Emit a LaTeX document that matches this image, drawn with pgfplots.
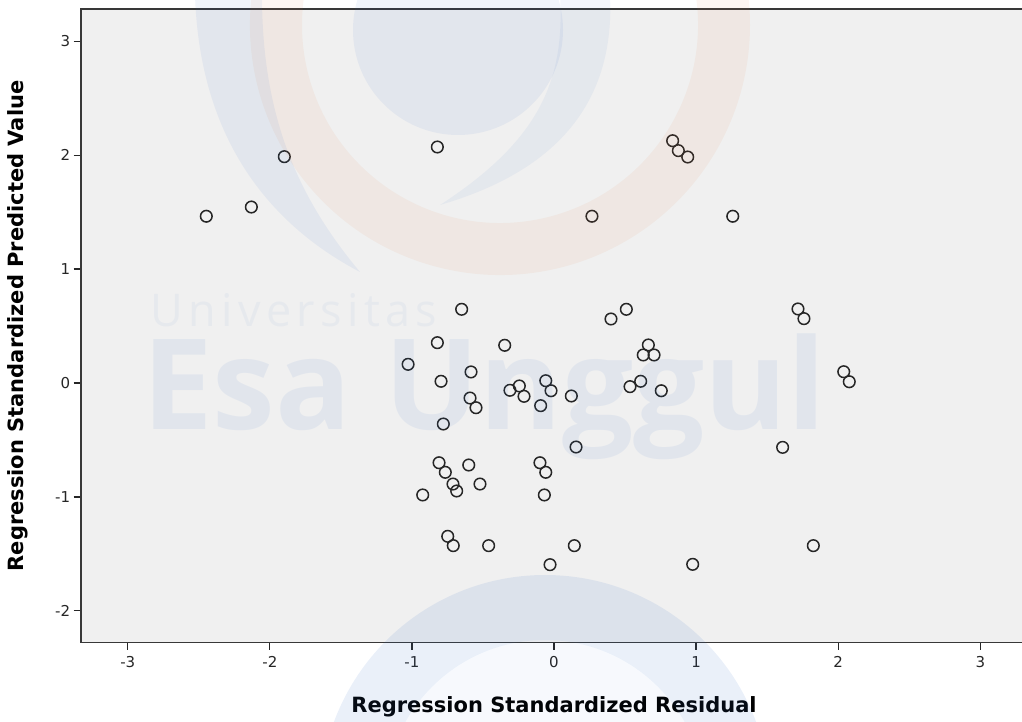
\documentclass[border=0pt]{standalone}
\usepackage{fontspec}
\setmainfont{DejaVu Sans}
\newfontfamily\wmfont[LetterSpace=12]{Open Sans}
\newfontfamily\wmbold{Open Sans}
\usepackage{pgfplots}
\usetikzlibrary{calc}
\pgfplotsset{compat=1.18}
\definecolor{bgc}{HTML}{F0F0F0}
\definecolor{wmblue}{RGB}{50,110,200}
\definecolor{wmorange}{RGB}{230,120,60}

\begin{document}
\begin{tikzpicture}[x=1pt,y=1pt]
\begin{axis}[
  at={(80.7pt,79.3pt)}, anchor=south west,
  width=946.6pt, height=633.4pt, scale only axis,
  xmin=-3.331, xmax=3.331, ymin=-2.28, ymax=3.281,
  axis background/.style={fill=bgc},
  axis line style={line width=1.6pt, draw=black!78},
  tick pos=left, tick align=outside,
  major tick length=7pt,
  tick style={line width=1.3pt, black!85},
  xtick={-3,-2,-1,0,1,2,3},
  xticklabels={-3,-2,-1,0,1,2,3},
  ytick={-2,-1,0,1,2,3},
  yticklabels={-2,-1,0,1,2,3},
  ticklabel style={font=\fontsize{15}{17}\selectfont, text=black!85},
  xticklabel style={yshift=-3pt},
  xlabel={Regression Standardized Residual},
  ylabel={Regression Standardized Predicted Value},
  label style={font=\fontsize{21}{24}\selectfont\bfseries},
  xlabel style={at={(axis description cs:0.5,-0.1105)}, anchor=base},
  ylabel style={at={(axis description cs:-0.0662,0.5)}, anchor=center},
]
\addplot[only marks, mark=o, mark size=5.8pt,
  mark options={line width=1.5pt, draw=black!85}] table {
x y
-2.447 1.464
-2.130 1.545
-1.898 1.987
-0.821 2.072
0.835 2.127
0.875 2.040
0.941 1.984
0.267 1.464
1.258 1.464
-0.650 0.647
0.401 0.562
0.509 0.647
1.717 0.650
1.759 0.565
-0.821 0.354
-0.347 0.331
-1.027 0.164
-0.584 0.097
-0.795 0.015
-0.591 -0.132
-0.549 -0.217
-0.779 -0.360
-0.310 -0.064
-0.244 -0.026
-0.211 -0.117
-0.058 0.020
-0.021 -0.068
-0.094 -0.199
0.122 -0.114
0.664 0.334
0.628 0.246
0.704 0.246
0.535 -0.032
0.610 0.015
0.755 -0.068
2.039 0.099
2.078 0.011
0.155 -0.562
1.609 -0.565
-0.809 -0.700
-0.765 -0.784
-0.600 -0.720
-0.099 -0.700
-0.058 -0.784
-0.711 -0.887
-0.685 -0.948
-0.521 -0.887
-0.924 -0.983
-0.068 -0.983
-0.748 -1.346
-0.709 -1.428
-0.460 -1.428
0.143 -1.428
1.825 -1.428
-0.028 -1.595
0.976 -1.592
};
\end{axis}
% faint watermark (image coordinates: y downward)
\begin{scope}[yshift=722pt, yscale=-1]
  \fill[wmblue, opacity=0.07] (458,30) circle[radius=105];
  \fill[wmorange, opacity=0.07] ($(500,25)+(195:250)$) arc[start angle=195, end angle=-15, radius=250]
     -- ($(500,25)+(-15:198)$) arc[start angle=-15, end angle=195, radius=198] -- cycle;
  \fill[wmblue, opacity=0.07] (195,-5) .. controls (200,150) and (280,230) .. (360,272)
     .. controls (300,200) and (262,120) .. (262,-5) -- cycle;
  \fill[wmblue, opacity=0.06] (610,-5) .. controls (615,100) and (560,170) .. (440,205)
     .. controls (540,140) and (565,80) .. (560,-5) -- cycle;
  \fill[wmblue, opacity=0.1] (320,800) arc[start angle=180, end angle=360, radius=225]
     -- (705,800) arc[start angle=360, end angle=180, radius=160] -- cycle;
  \fill[wmblue, opacity=0.04] (385,800) arc[start angle=180, end angle=360, radius=160] -- cycle;
  \node[anchor=base west, inner sep=0pt, text=wmblue, opacity=0.05,
        font=\wmfont\fontsize{45}{50}\selectfont] at (150,327) {Universitas};
  \node[anchor=base west, inner sep=0pt, text=wmblue, opacity=0.08,
        font=\wmbold\bfseries\fontsize{126}{130}\selectfont] at (142,430) {Esa Unggul};
\end{scope}
\pgfresetboundingbox
\useasboundingbox (0,0) rectangle (1022,722);
\end{tikzpicture}
\end{document}
